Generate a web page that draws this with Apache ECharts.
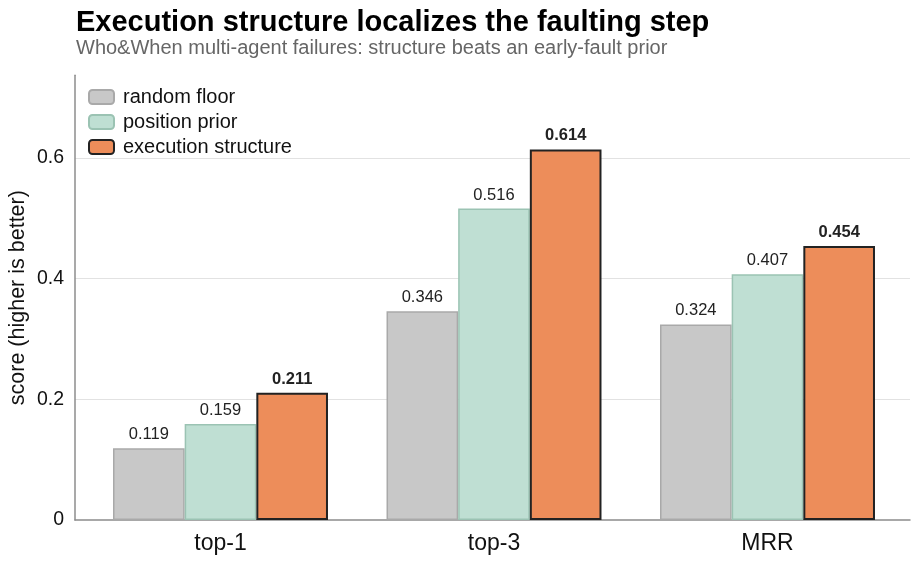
<!DOCTYPE html>
<html>
<head>
<meta charset="utf-8">
<script src="https://cdn.jsdelivr.net/npm/echarts@6/dist/echarts.min.js"></script>
<style>html,body{margin:0;padding:0;background:#fff}#c{width:920px;height:561px}</style>
</head>
<body>
<div id="c"></div>
<script>
const categories = ['top-1', 'top-3', 'MRR'];
const randomFloor = [0.119, 0.346, 0.324];
const positionPrior = [0.159, 0.516, 0.407];
const executionStructure = [0.211, 0.614, 0.454];
const yTicks = [0, 0.2, 0.4, 0.6];
const yMax = 0.7368;

const FONT = 'Liberation Sans, Arial, Helvetica, sans-serif';
const chart = echarts.init(document.getElementById('c'), null, {renderer: 'canvas'});

function lbl(bold) {
  return {
    show: true, position: 'top', distance: 5,
    fontFamily: FONT, fontSize: 16.5, color: '#222',
    fontWeight: bold ? 'bold' : 'normal',
    formatter: p => p.value.toFixed(3)
  };
}

chart.setOption({
  animation: false,
  backgroundColor: '#fff',
  textStyle: {fontFamily: FONT},
  title: [
    {text: 'Execution structure localizes the faulting step', left: 76, top: 8, padding: 0,
     textStyle: {fontFamily: FONT, fontSize: 29, fontWeight: 'bold', color: '#000'}},
    {text: 'Who&When multi-agent failures: structure beats an early-fault prior', left: 76, top: 38, padding: 0,
     textStyle: {fontFamily: FONT, fontSize: 20, fontWeight: 'normal', color: '#666'}}
  ],
  legend: {
    orient: 'vertical', left: 83, top: 82,
    itemWidth: 25, itemHeight: 14, itemGap: 5,
    textStyle: {fontFamily: FONT, fontSize: 20, color: '#111', lineHeight: 20, padding: [0, 0, 0, 4]},
    data: ['random floor', 'position prior', 'execution structure']
  },
  grid: [
    {left: 75, right: 10, top: 75.3, bottom: 41, outerBoundsMode: 'none', containLabel: false},
    {left: 83.75, right: 15.75, top: 75.3, bottom: 41, outerBoundsMode: 'none', containLabel: false}
  ],
  xAxis: [
    {gridIndex: 0, type: 'value', min: 0, max: 1,
     axisLine: {show: true, lineStyle: {color: '#8c8c8c', width: 1.5}},
     axisTick: {show: false}, axisLabel: {show: false}, splitLine: {show: false}},
    {gridIndex: 1, type: 'category', data: categories,
     axisLine: {show: false}, axisTick: {show: false},
     axisLabel: {fontFamily: FONT, fontSize: 23, color: '#111', margin: 12}}
  ],
  yAxis: [
    {gridIndex: 0, type: 'value', min: 0, max: yMax, interval: 0.2,
     name: 'score (higher is better)', nameLocation: 'middle', nameGap: 46, nameMoveOverlap: false,
     nameTextStyle: {fontFamily: FONT, fontSize: 21.5, color: '#111'},
     axisLine: {show: true, lineStyle: {color: '#8c8c8c', width: 1.5}},
     axisTick: {show: false},
     axisLabel: {fontFamily: FONT, fontSize: 19.5, color: '#111', margin: 11,
       formatter: v => yTicks.some(t => Math.abs(t - v) < 1e-9) ? (v === 0 ? '0' : v.toFixed(1)) : ''},
     splitLine: {show: true, showMaxLine: false, showMinLine: false, lineStyle: {color: '#e2e2e2', width: 1.2}}},
    {gridIndex: 1, type: 'value', min: 0, max: yMax, show: false, splitLine: {show: false}}
  ],
  series: [
    {name: 'random floor', type: 'bar', xAxisIndex: 1, yAxisIndex: 1, data: randomFloor,
     barGap: '0%', barCategoryGap: '21.4%',
     itemStyle: {color: '#c8c8c8', borderColor: '#a9a9a9', borderWidth: 1.5},
     label: lbl(false)},
    {name: 'position prior', type: 'bar', xAxisIndex: 1, yAxisIndex: 1, data: positionPrior,
     barGap: '0%', barCategoryGap: '21.4%',
     itemStyle: {color: '#bfdfd3', borderColor: '#9bc3b3', borderWidth: 1.5},
     label: lbl(false)},
    {name: 'execution structure', type: 'bar', xAxisIndex: 1, yAxisIndex: 1, data: executionStructure,
     barGap: '0%', barCategoryGap: '21.4%',
     itemStyle: {color: '#ed8d5a', borderColor: '#222', borderWidth: 2},
     label: lbl(true)}
  ]
});
</script>
</body>
</html>
